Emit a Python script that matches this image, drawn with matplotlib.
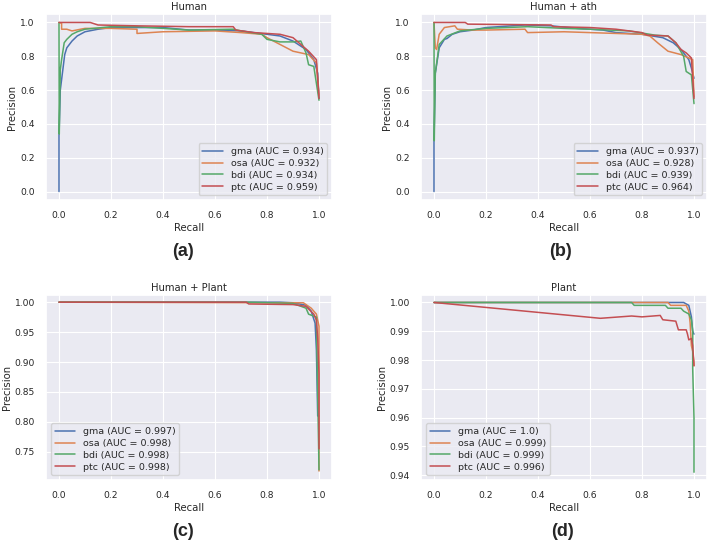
import matplotlib
matplotlib.use("Agg")
import matplotlib.pyplot as plt
import seaborn as sns

# ---- data (recall, precision) ----
names = ["gma", "osa", "bdi", "ptc"]
titles = ["Human", "Human + ath", "Human + Plant", "Plant"]
tags = ["(a)", "(b)", "(c)", "(d)"]

auc_a = ["0.934", "0.932", "0.934", "0.959"]
auc_b = ["0.937", "0.928", "0.939", "0.964"]
auc_c = ["0.997", "0.998", "0.998", "0.998"]
auc_d = ["1.0", "0.999", "0.999", "0.996"]

# Human
a_gma_r = [0.0, 0.0, 0.005, 0.022, 0.03, 0.05, 0.07, 0.1, 0.15, 0.2, 0.4, 0.5, 0.6, 0.7, 0.8, 0.85, 0.9, 0.95, 0.98, 0.995, 1.0]
a_gma_p = [0.0, 0.33, 0.6, 0.81, 0.85, 0.89, 0.92, 0.945, 0.96, 0.97, 0.97, 0.955, 0.955, 0.95, 0.93, 0.92, 0.89, 0.84, 0.78, 0.70, 0.55]
a_osa_r = [0.0, 0.01, 0.01, 0.03, 0.05, 0.1, 0.2, 0.3, 0.3, 0.4, 0.6, 0.7, 0.78, 0.8, 0.85, 0.9, 0.93, 0.96, 0.99, 1.0]
a_osa_p = [1.0, 0.995, 0.96, 0.96, 0.95, 0.965, 0.965, 0.96, 0.935, 0.945, 0.95, 0.94, 0.93, 0.91, 0.87, 0.83, 0.82, 0.81, 0.76, 0.57]
a_bdi_r = [0.0, 0.001, 0.005, 0.01, 0.02, 0.03, 0.05, 0.07, 0.1, 0.2, 0.3, 0.4, 0.5, 0.67, 0.7, 0.78, 0.8, 0.85, 0.9, 0.93, 0.95, 0.96, 0.98, 1.0]
a_bdi_p = [1.0, 0.34, 0.72, 0.78, 0.88, 0.90, 0.93, 0.945, 0.96, 0.975, 0.975, 0.965, 0.955, 0.96, 0.95, 0.93, 0.90, 0.885, 0.885, 0.89, 0.82, 0.75, 0.74, 0.54]
a_ptc_r = [0.0, 0.12, 0.15, 0.3, 0.5, 0.67, 0.68, 0.75, 0.85, 0.9, 0.93, 0.96, 0.99, 1.0]
a_ptc_p = [1.0, 1.0, 0.985, 0.98, 0.975, 0.975, 0.955, 0.94, 0.93, 0.91, 0.87, 0.83, 0.78, 0.55]

# Human + ath
b_gma_r = [0.0, 0.0, 0.005, 0.02, 0.04, 0.05, 0.07, 0.1, 0.15, 0.2, 0.35, 0.45, 0.55, 0.6, 0.65, 0.7, 0.8, 0.88, 0.92, 0.95, 0.98, 0.99, 1.0]
b_gma_p = [0.0, 0.3, 0.7, 0.85, 0.9, 0.905, 0.93, 0.945, 0.955, 0.97, 0.985, 0.98, 0.965, 0.96, 0.955, 0.94, 0.93, 0.91, 0.88, 0.84, 0.78, 0.73, 0.67]
b_osa_r = [0.0, 0.005, 0.01, 0.02, 0.04, 0.08, 0.09, 0.15, 0.2, 0.35, 0.36, 0.5, 0.6, 0.7, 0.8, 0.83, 0.86, 0.9, 0.95, 0.98, 0.995, 1.0]
b_osa_p = [1.0, 0.85, 0.84, 0.93, 0.97, 0.98, 0.96, 0.955, 0.955, 0.96, 0.94, 0.945, 0.94, 0.935, 0.93, 0.92, 0.88, 0.83, 0.81, 0.79, 0.78, 0.56]
b_bdi_r = [0.0, 0.001, 0.005, 0.02, 0.05, 0.1, 0.2, 0.36, 0.5, 0.6, 0.75, 0.85, 0.9, 0.93, 0.96, 0.97, 0.99, 1.0]
b_bdi_p = [1.0, 0.3, 0.7, 0.87, 0.92, 0.95, 0.965, 0.975, 0.965, 0.96, 0.95, 0.925, 0.92, 0.88, 0.80, 0.71, 0.69, 0.52]
b_ptc_r = [0.0, 0.12, 0.13, 0.45, 0.46, 0.6, 0.7, 0.8, 0.82, 0.9, 0.93, 0.95, 0.97, 0.99, 1.0]
b_ptc_p = [1.0, 1.0, 0.99, 0.985, 0.975, 0.97, 0.96, 0.94, 0.925, 0.92, 0.88, 0.84, 0.82, 0.79, 0.55]

# Human + Plant
c_gma_r = [0.0, 0.85, 0.9, 0.95, 0.97, 0.985, 0.99, 0.995, 1.0]
c_gma_p = [1.0, 1.0, 0.999, 0.995, 0.985, 0.965, 0.92, 0.81, 0.81]
c_osa_r = [0.0, 0.94, 0.97, 0.99, 1.0, 1.0]
c_osa_p = [1.0, 0.999, 0.99, 0.98, 0.96, 0.718]
c_bdi_r = [0.0, 0.72, 0.9, 0.95, 0.96, 0.99, 1.0]
c_bdi_p = [1.0, 1.0, 0.998, 0.99, 0.98, 0.975, 0.72]
c_ptc_r = [0.0, 0.72, 0.73, 0.9, 0.95, 0.98, 0.99, 0.995, 1.0, 1.0]
c_ptc_p = [1.0, 1.0, 0.997, 0.996, 0.993, 0.98, 0.97, 0.94, 0.88, 0.755]

# Plant
d_gma_r = [0.0, 0.96, 0.98, 0.99, 0.995, 1.0]
d_gma_p = [1.0, 1.0, 0.999, 0.995, 0.99, 0.989]
d_osa_r = [0.0, 0.9, 0.91, 0.97, 0.98, 0.985, 0.99, 0.995, 1.0, 1.0]
d_osa_p = [1.0, 1.0, 0.999, 0.999, 0.997, 0.993, 0.985, 0.983, 0.979, 0.978]
d_bdi_r = [0.0, 0.76, 0.77, 0.89, 0.9, 0.95, 0.96, 0.98, 0.99, 0.995, 0.995, 1.0, 1.0]
d_bdi_p = [1.0, 1.0, 0.999, 0.999, 0.998, 0.998, 0.997, 0.996, 0.994, 0.99, 0.977, 0.96, 0.941]
d_ptc_r = [0.0, 0.64, 0.76, 0.8, 0.87, 0.88, 0.93, 0.94, 0.97, 0.975, 0.98, 0.99, 0.995, 1.0]
d_ptc_p = [1.0, 0.9945, 0.9953, 0.995, 0.9955, 0.994, 0.9935, 0.9905, 0.9905, 0.989, 0.987, 0.9875, 0.985, 0.978]

panels = [
    [(a_gma_r, a_gma_p), (a_osa_r, a_osa_p), (a_bdi_r, a_bdi_p), (a_ptc_r, a_ptc_p)],
    [(b_gma_r, b_gma_p), (b_osa_r, b_osa_p), (b_bdi_r, b_bdi_p), (b_ptc_r, b_ptc_p)],
    [(c_gma_r, c_gma_p), (c_osa_r, c_osa_p), (c_bdi_r, c_bdi_p), (c_ptc_r, c_ptc_p)],
    [(d_gma_r, d_gma_p), (d_osa_r, d_osa_p), (d_bdi_r, d_bdi_p), (d_ptc_r, d_ptc_p)],
]
aucs = [auc_a, auc_b, auc_c, auc_d]

sns.set_theme(style="darkgrid")
plt.rcParams["font.family"] = ["DejaVu Sans"]
plt.rcParams["xtick.labelsize"] = 6.6
plt.rcParams["ytick.labelsize"] = 6.6
plt.rcParams["axes.labelsize"] = 7.3
plt.rcParams["axes.titlesize"] = 7.2
plt.rcParams["legend.fontsize"] = 6.8
plt.rcParams["grid.linewidth"] = 0.8

colors = sns.color_palette()[:4]

fig = plt.figure(figsize=(7.08, 5.41), dpi=100)
W, H = 708, 541
# axes boxes in pixels: left, top, right, bottom
boxes = [(46, 14, 332, 200), (421, 14, 707, 200), (46, 295, 332, 480), (421, 295, 707, 480)]
tag_pos = [(183, 252), (561, 252), (183, 532), (563, 532)]
legend_loc = ["lower right", "lower right", "lower left", "lower left"]

for i in range(4):
    l, t, r, b = boxes[i]
    ax = fig.add_axes([l / W, 1 - b / H, (r - l) / W, (b - t) / H])
    for j in range(4):
        rec, prec = panels[i][j]
        ax.plot(rec, prec, color=colors[j], lw=1.1,
                label="{} (AUC = {})".format(names[j], aucs[i][j]))
    ax.set_title(titles[i], pad=3)
    ax.set_xlabel("Recall", labelpad=2)
    ax.set_ylabel("Precision", labelpad=2)
    ax.tick_params(pad=2)
    if i == 2:
        ax.set_ylim(0.703, 1.012)
    if i == 3:
        ax.set_ylim(0.9383, 1.0026)
        ax.set_yticks([0.94, 0.95, 0.96, 0.97, 0.98, 0.99, 1.00])
    ax.legend(loc=legend_loc[i], handlelength=2.2, borderpad=0.4, labelspacing=0.3)
    tx, ty = tag_pos[i]
    fig.text(tx / W, 1 - ty / H, tags[i], ha="center", va="center",
             fontsize=13, fontweight="bold", family="Liberation Sans")

fig.savefig("out.png", dpi=100)
